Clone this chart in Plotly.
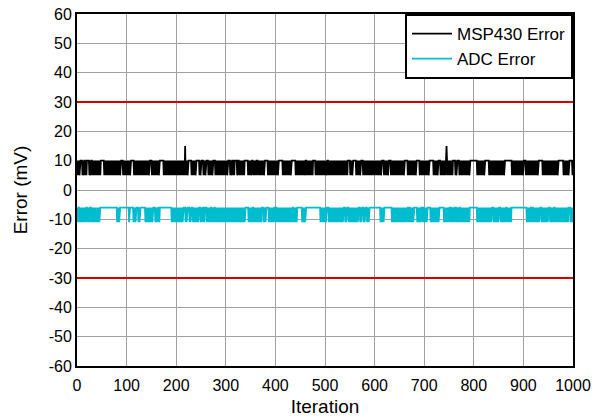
import plotly.graph_objects as go

# ---------------- data ----------------
iterations = list(range(1, 1001))

msp430_high = 10
msp430_low = 5
adc_high = -6
adc_low = -11
limit_upper = 30
limit_lower = -30

# MSP430 error: dithers between high/low, except in these ranges where it holds at high
msp430_hold_ranges = [
    (7, 9), (14, 16), (21, 23), (28, 30), (48, 53), (88, 92), (108, 113), (146, 150),
    (167, 173), (224, 229), (240, 245), (251, 253), (261, 263), (275, 277), (305, 307),
    (312, 314), (319, 321), (324, 326), (339, 344), (352, 354), (362, 364), (379, 383),
    (406, 413), (433, 440), (460, 462), (477, 479), (504, 506), (547, 550), (557, 562),
    (572, 576), (614, 618), (628, 632), (661, 666), (685, 689), (711, 717), (728, 732),
    (758, 762), (767, 770), (792, 806), (823, 829), (863, 876), (900, 903), (930, 937),
    (970, 980), (992, 997),
]
msp430_spike_iters = [218, 745]
msp430_spike_values = [15, 15]

# ADC error: holds at high, with dense dithering bursts and sparse dips
adc_dense_ranges = [
    (20, 25), (28, 45), (80, 85), (113, 119), (123, 127), (137, 152), (157, 162),
    (190, 214), (218, 222), (226, 229), (233, 245), (248, 251), (254, 258), (261, 268),
    (271, 277), (302, 312), (345, 352), (355, 372), (414, 433), (436, 443), (453, 460),
    (490, 497), (507, 537), (540, 544), (547, 567), (570, 574), (577, 580), (611, 618),
    (634, 665), (685, 692), (712, 729), (772, 792), (806, 836), (866, 876), (906, 913),
    (953, 960), (963, 990), (994, 1000),
]
adc_sparse_ranges = [
    (1, 18), (278, 300), (313, 339), (376, 382), (386, 396), (399, 413), (498, 503),
    (584, 590), (668, 678), (695, 705), (739, 749), (752, 759), (762, 769), (839, 849),
    (853, 863), (916, 933), (936, 950),
]
adc_single_dips = [105, 166]

x_tick_vals = [0, 100, 200, 300, 400, 500, 600, 700, 800, 900, 1000]
y_tick_vals = [-60, -50, -40, -30, -20, -10, 0, 10, 20, 30, 40, 50, 60]
y_tick_text = ["-60", "-50", "-40", "-30", "-20", "-10", "0", "10", "20", "30", "40", "50", "60"]

# ---------------- build series from the read ranges ----------------
def in_ranges(i, ranges):
    return any(a <= i <= b for a, b in ranges)

msp430_error = []
for i in iterations:
    if in_ranges(i, msp430_hold_ranges):
        v = msp430_high
    else:
        v = msp430_high if i % 2 == 0 else msp430_low
    msp430_error.append(v)
for it, val in zip(msp430_spike_iters, msp430_spike_values):
    msp430_error[it - 1] = val

adc_error = []
for i in iterations:
    v = adc_high
    for a, b in adc_dense_ranges:
        if a <= i <= b and (i - a) % 2 == 1:
            v = adc_low
    for a, b in adc_sparse_ranges:
        if a <= i <= b and (i - a) % 3 == 1:
            v = adc_low
    if i in adc_single_dips:
        v = adc_low
    adc_error.append(v)

# ---------------- figure ----------------
font_family = "Liberation Sans, Arial, sans-serif"
fig = go.Figure()
fig.add_trace(go.Scatter(x=iterations, y=msp430_error, mode="lines", name="MSP430 Error",
                         line=dict(color="black", width=1.8)))
fig.add_trace(go.Scatter(x=iterations, y=adc_error, mode="lines", name="ADC Error",
                         line=dict(color="#00BCCF", width=1.8)))
for lim in (limit_upper, limit_lower):
    fig.add_hline(y=lim, line=dict(color="#D00000", width=2))

fig.update_layout(
    width=595, height=419,
    margin=dict(l=77, r=22, t=14, b=53, autoexpand=False),
    paper_bgcolor="white", plot_bgcolor="white",
    font=dict(family=font_family, size=16, color="black"),
    showlegend=True,
    legend=dict(x=1, y=1, xanchor="right", yanchor="top",
                bgcolor="white", bordercolor="black", borderwidth=2,
                font=dict(size=17), tracegroupgap=0, itemwidth=40),
)
fig.update_xaxes(range=[0, 1000], tickvals=x_tick_vals, showgrid=True, gridcolor="#A0A0A0",
                 gridwidth=1, zeroline=False, showline=True, linecolor="black", linewidth=2,
                 mirror=True, ticks="", automargin=False, ticklabelstandoff=4,
                 title=dict(text="Iteration", standoff=6), tickfont=dict(size=16))
fig.update_yaxes(range=[-60, 60], tickvals=y_tick_vals, ticktext=y_tick_text, showgrid=True,
                 gridcolor="#A0A0A0", gridwidth=1, zeroline=False, showline=True,
                 linecolor="black", linewidth=2, mirror=True, ticks="", automargin=False,
                 title=dict(text="Error (mV)", standoff=16), tickfont=dict(size=16))

fig.write_html("out.html", config={"displayModeBar": False},
               post_script="document.body.style.margin='0';")
